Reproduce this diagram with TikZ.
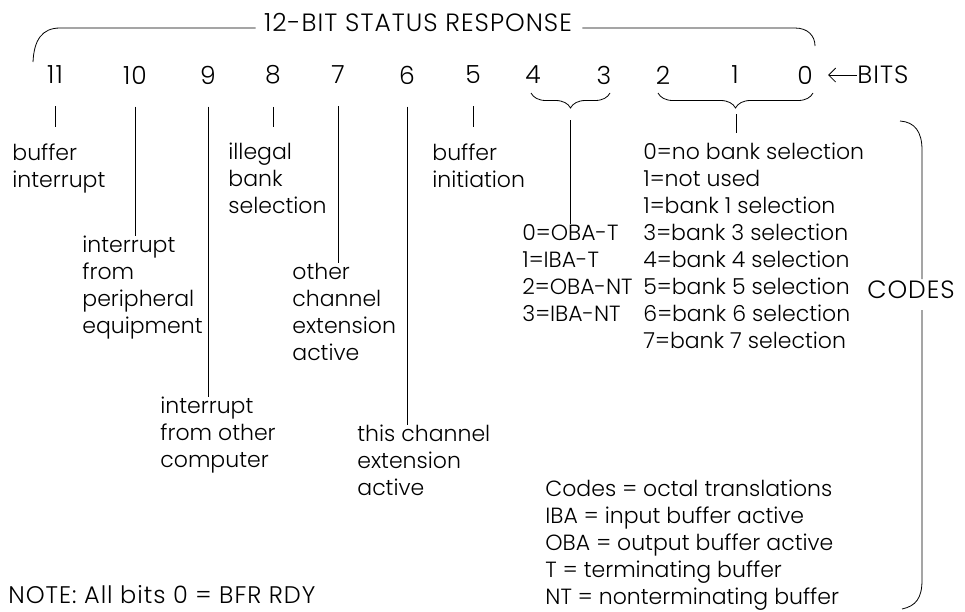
\documentclass[tikz,border=0pt]{standalone}
\usepackage{fontspec}
\IfFontExistsTF{Poppins Light}{\def\mainface{Poppins Light}}{\def\mainface{Poppins}}
\setmainfont{\mainface}
\newfontfamily\capsfont{\mainface}[LetterSpace=4]
\usetikzlibrary{arrows.meta,decorations.pathreplacing}

\begin{document}
\begin{tikzpicture}[
  x=1pt,y=-1pt,
  every node/.style={inner sep=0pt,font=\fontsize{22}{27}\selectfont},
  caps/.style={font=\capsfont\fontsize{25}{27}\selectfont},
  desc/.style={anchor=north west,align=left,execute at begin node=\strut},
  tick/.style={shorten <=22pt,shorten >=16pt},
  drop/.style={shorten <=22pt},
  curly/.style={decorate,decoration={brace,amplitude=15pt}},
  every path/.style={line width=.8pt}
]
  \useasboundingbox (0,0) rectangle (965,611);

  \node[caps,anchor=base] (title) at (418,31) {12-BIT STATUS RESPONSE};
  \draw ([xshift=-8pt,yshift=3pt]title.base west) -- (60,28) .. controls (42,28) and (34,40) .. (33,62);
  \draw ([xshift=10pt,yshift=3pt]title.base east) -- (795,28) .. controls (808,28) and (815,36) .. (815,46);

  \foreach \x/\b in {55/11,135/10,208/9,273/8,338/7,407/6,473/5,533/4,604/3,663/2,735/1,805/0}
    \node[caps] (b\b) at (\x,75) {\b};
  \node[caps,anchor=west] (bits) at (857,75) {BITS};
  \draw[-{Straight Barb[length=7pt,width=14pt]},shorten >=15pt] (bits.west) -- (b0.east);

  \draw[curly] (610,93) -- (531,93);
  \draw[curly] (813,93) -- (658,93);
  \coordinate (t43) at (570,108);
  \coordinate (t210) at (736,108);

  \node[desc] (d11) at (12,143) {buffer\\interrupt};
  \node[desc] (d10) at (82,236) {interrupt\\from\\peripheral\\equipment};
  \node[desc] (d9) at (160,397) {interrupt\\from other\\computer};
  \node[desc] (d8) at (228,143) {illegal\\bank\\selection};
  \node[desc] (d7) at (292,263) {other\\channel\\extension\\active};
  \node[desc] (d6) at (357,425) {this channel\\extension\\active};
  \node[desc] (d5) at (432,143) {buffer\\initiation};
  \node[desc] (d43) at (522,224) {0=OBA-T\\1=IBA-T\\2=OBA-NT\\3=IBA-NT};
  \node[desc] (d210) at (643,143) {0=no bank selection\\1=not used\\1=bank 1 selection\\3=bank 3 selection\\4=bank 4 selection\\5=bank 5 selection\\6=bank 6 selection\\7=bank 7 selection};
  \node[desc] (legend) at (545,480) {Codes = octal translations\\IBA = input buffer active\\OBA = output buffer active\\T = terminating buffer\\NT = nonterminating buffer};
  \node[caps,anchor=base west,font=\capsfont\fontsize{24}{27}\selectfont] (note) at (8,603) {NOTE: All bits 0 = BFR RDY};
  \node[caps] (codes) at (911,290) {CODES};

  \draw[tick] (b11.south) -- (b11 |- d11.north);
  \draw[tick] (b8.south) -- (b8 |- d8.north);
  \draw[tick] (b5.south) -- (b5 |- d5.north);
  \draw[drop] (b10.south) -- (b10 |- d10.north);
  \draw[drop] (b9.south) -- (b9 |- d9.north);
  \draw[drop] (b7.south) -- (b7 |- d7.north);
  \draw[drop] (b6.south) -- (b6 |- d6.north);
  \draw[shorten <=12pt] (t43) -- (t43 |- d43.north);
  \draw[shorten <=6pt,shorten >=10pt] (t210) -- (t210 |- d210.north);

  \draw (900,121) .. controls (915,122) and (922,132) .. (922,150) -- (922,279);
  \draw (922,310) -- (922,580) .. controls (922,598) and (916,606) .. (902,609);
\end{tikzpicture}
\end{document}
